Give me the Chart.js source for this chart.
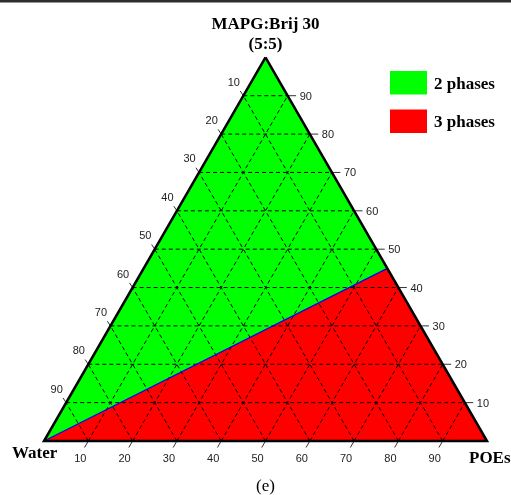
<!DOCTYPE html>
<html>
<head>
<meta charset="utf-8">
<script src="https://cdn.jsdelivr.net/npm/chart.js@4.4.1/dist/chart.umd.min.js"></script>
<style>
  html, body { margin: 0; padding: 0; background: #fff; }
  canvas { display: block; }
</style>
</head>
<body>
<canvas id="ternary" width="511" height="495"></canvas>
<script>
// Tick values along each side of the triangle (percent)
var tickValues = [10, 20, 30, 40, 50, 60, 70, 80, 90];

// Corner names
var topName = ["MAPG:Brij 30", "(5:5)"];
var leftName = "Water";
var rightName = "POEs";

// Phase regions, vertices given as MAPG % and POEs % (Water is the rest)
var phaseLabels = ["2 phases", "3 phases"];
var phaseColors = ["#00ff00", "#ff0000"];
var twoPhaseMAPG = [100, 0, 45];
var twoPhasePOEs = [0, 0, 55];
var threePhaseMAPG = [0, 0, 45];
var threePhasePOEs = [0, 100, 55];

// Phase boundary line (Water corner to the MAPG-POEs side)
var boundaryMAPG = [0, 45];
var boundaryPOEs = [0, 55];

var H = Math.sqrt(3) / 2;

// ternary (MAPG, POEs) -> cartesian point
function tern(mapg, poes) {
    return { x: poes + mapg / 2, y: mapg * H };
}

function polygon(mapg, poes) {
    var pts = mapg.map(function (m, i) { return tern(m, poes[i]); });
    pts.push(pts[0]);
    return pts;
}

var datasets = [];

// triangle outline
datasets.push({
    data: polygon([100, 0, 0], [0, 0, 100]),
    borderColor: "#000", borderWidth: 2.5, order: 0
});

// small ticks outside the triangle
var tickPts = [];
tickValues.forEach(function (t) {
    // right side: MAPG lines extended to the right
    var a = tern(t, 100 - t);
    tickPts.push(a, { x: a.x + 1.9, y: a.y }, { x: NaN, y: NaN });
    // left side: Water lines extended up-left
    var b = tern(100 - t, 0);
    tickPts.push(b, { x: b.x - 0.7, y: b.y + 1.4 * H * 0.87 }, { x: NaN, y: NaN });
    // bottom: POEs lines extended down-left
    var c = tern(0, t);
    tickPts.push(c, { x: c.x - 0.85, y: c.y - 1.7 * H }, { x: NaN, y: NaN });
});
datasets.push({ data: tickPts, borderColor: "#333", borderWidth: 1, order: 0 });

// phase boundary
datasets.push({
    data: boundaryMAPG.map(function (m, i) { return tern(m, boundaryPOEs[i]); }),
    borderColor: "#0000ff", borderWidth: 1.2, order: 1
});

// dashed grid
var gridPts = [];
tickValues.forEach(function (t) {
    gridPts.push(tern(t, 0), tern(t, 100 - t), { x: NaN, y: NaN });
    gridPts.push(tern(0, t), tern(100 - t, t), { x: NaN, y: NaN });
    gridPts.push(tern(0, 100 - t), tern(100 - t, 0), { x: NaN, y: NaN });
});
datasets.push({ data: gridPts, borderColor: "#000", borderWidth: 1, borderDash: [4, 3], order: 2 });

// phase areas
datasets.push({
    label: phaseLabels[0], data: polygon(twoPhaseMAPG, twoPhasePOEs),
    borderWidth: 0, borderColor: phaseColors[0], backgroundColor: phaseColors[0], fill: "shape", order: 3
});
datasets.push({
    label: phaseLabels[1], data: polygon(threePhaseMAPG, threePhasePOEs),
    borderWidth: 0, borderColor: phaseColors[1], backgroundColor: phaseColors[1], fill: "shape", order: 3
});

datasets.forEach(function (d) {
    d.showLine = true;
    d.pointRadius = 0;
    d.spanGaps = false;
    if (d.fill === undefined) d.fill = false;
});

// labels, legend and corner names
var textPlugin = {
    id: "textPlugin",
    beforeDraw: function (chart) {
        var ctx = chart.ctx;
        ctx.save();
        ctx.fillStyle = "#fff";
        ctx.fillRect(0, 0, chart.width, chart.height);
        ctx.fillStyle = "#2e2e2e";
        ctx.fillRect(0, 0, chart.width, 2.5);
        ctx.restore();
    },
    afterDraw: function (chart) {
        var ctx = chart.ctx;
        var xs = chart.scales.x, ys = chart.scales.y;
        function px(p) { return { x: xs.getPixelForValue(p.x), y: ys.getPixelForValue(p.y) }; }
        ctx.save();

        // tick labels
        ctx.font = "11px 'Liberation Sans', Arial, sans-serif";
        ctx.fillStyle = "#222";
        ctx.textBaseline = "middle";
        tickValues.forEach(function (t) {
            var r = px(tern(t, 100 - t));
            ctx.textAlign = "left";
            ctx.fillText(String(t), r.x + 12, r.y + 1);
            var l = px(tern(100 - t, 0));
            ctx.textAlign = "center";
            ctx.fillText(String(t), l.x - 9.5, l.y - 13);
            var b = px(tern(0, t));
            ctx.fillText(String(t), b.x - 8, b.y + 18);
        });

        // title
        ctx.fillStyle = "#000";
        ctx.textAlign = "center";
        ctx.textBaseline = "alphabetic";
        ctx.font = "bold 17px 'Liberation Serif', 'Times New Roman', serif";
        var apex = px(tern(100, 0));
        ctx.fillText(topName[0], apex.x, 29);
        ctx.fillText(topName[1], apex.x, 49);

        // corner names
        ctx.textAlign = "left";
        ctx.fillText(leftName, 12, 458);
        ctx.fillText(rightName, 469, 463);

        // legend
        ctx.font = "bold 17px 'Liberation Serif', 'Times New Roman', serif";
        phaseLabels.forEach(function (lab, i) {
            var y0 = 71 + i * 38.5;
            ctx.fillStyle = phaseColors[i];
            ctx.fillRect(390, y0, 37, 23.5);
            ctx.fillStyle = "#000";
            ctx.fillText(lab, 434, y0 + 17.5);
        });

        // panel letter
        ctx.textAlign = "center";
        ctx.font = "17px 'Liberation Serif', 'Times New Roman', serif";
        ctx.fillText("(e)", apex.x, 491);
        ctx.restore();
    }
};

var pxPerUnit = 4.43;
new Chart(document.getElementById("ternary"), {
    type: "scatter",
    data: { datasets: datasets },
    options: {
        responsive: false,
        animation: false,
        devicePixelRatio: 1,
        layout: { padding: 0 },
        plugins: { legend: { display: false }, tooltip: { enabled: false } },
        scales: {
            x: { display: false, min: -44 / pxPerUnit, max: (511 - 44) / pxPerUnit },
            y: { display: false, min: -(495 - 441) / pxPerUnit, max: 441 / pxPerUnit }
        }
    },
    plugins: [textPlugin]
});
</script>
</body>
</html>
